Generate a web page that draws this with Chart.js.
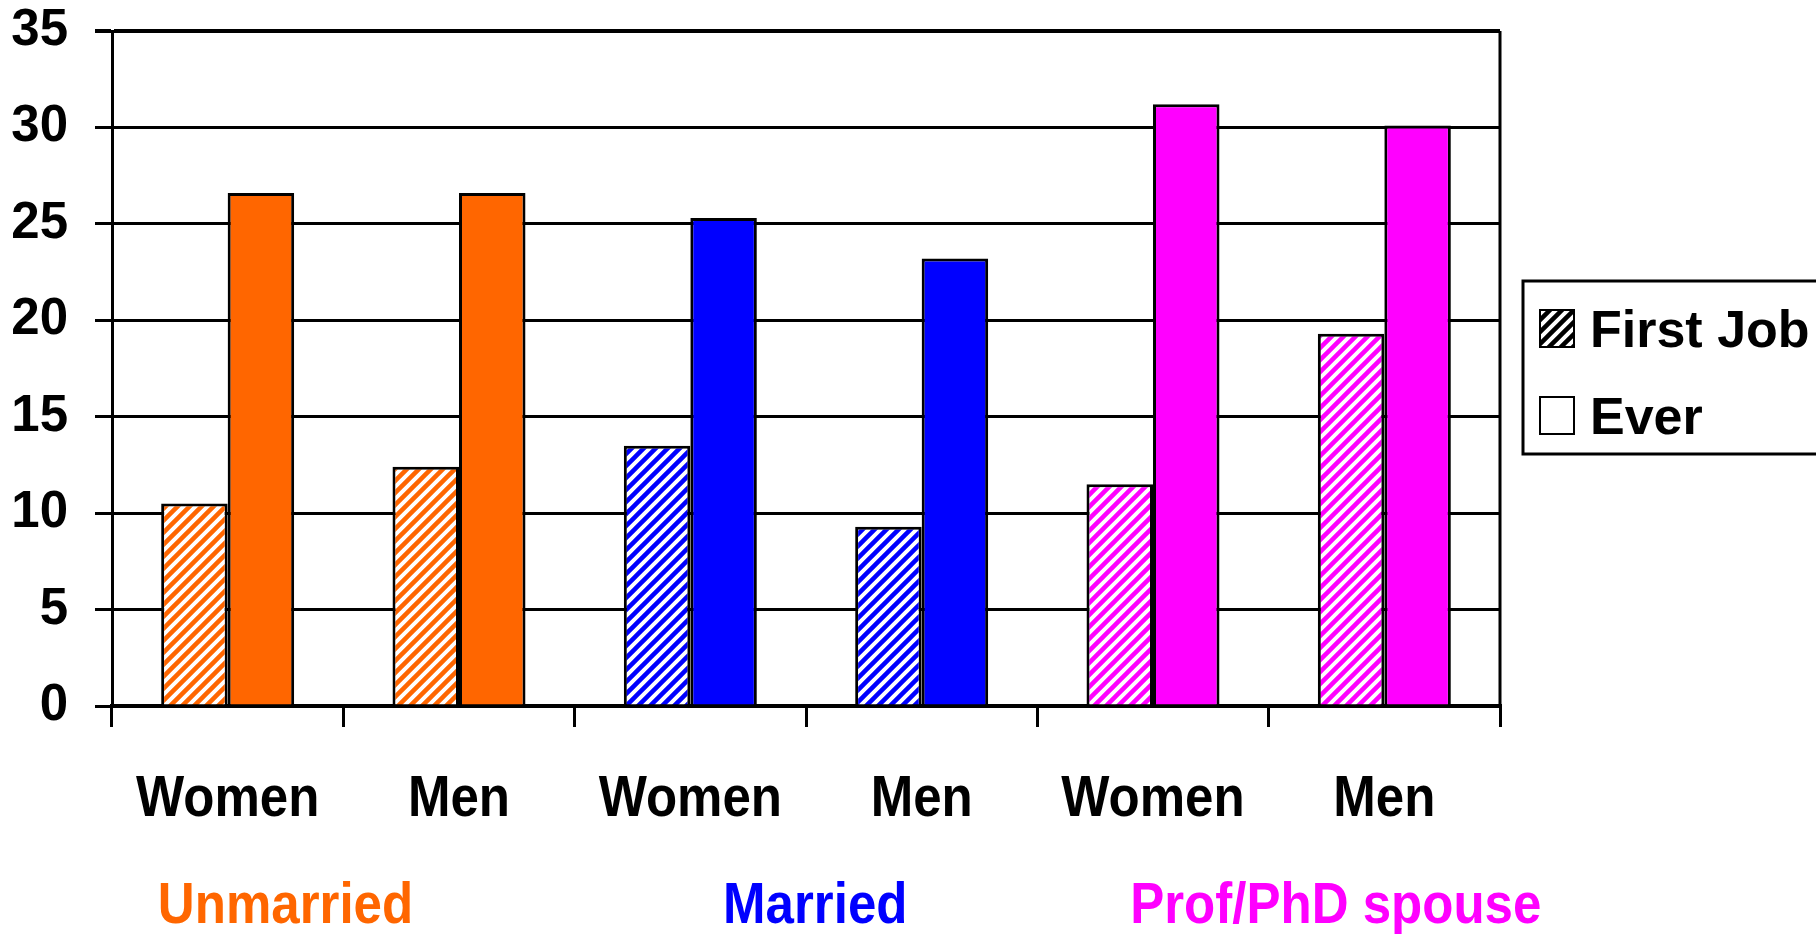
<!DOCTYPE html>
<html>
<head>
<meta charset="utf-8">
<script src="https://cdn.jsdelivr.net/npm/chart.js@4.4.1/dist/chart.umd.min.js"></script>
<style>
  html, body { margin: 0; padding: 0; background: #fff; overflow: hidden; }
</style>
</head>
<body>
<canvas id="chart" width="1816" height="934"></canvas>
<script>
// chart values
const categories = ['Women', 'Men', 'Women', 'Men', 'Women', 'Men'];
const groups = ['Unmarried', 'Married', 'Prof/PhD spouse'];
const seriesNames = ['First Job', 'Ever'];
const firstJob = [10.5, 12.4, 13.5, 9.3, 11.5, 19.3];
const ever = [26.6, 26.6, 25.3, 23.2, 31.2, 30.1];
const yMax = 35;
const yStep = 5;

// colours per group (each group covers two categories)
const groupColors = ['#FF6600', '#0000FF', '#FF00FF'];
const groupCenters = [0.25, 2.54, 4.79]; // where the group captions sit, in category units

const FONT = '"Liberation Sans", Arial, sans-serif';
Chart.defaults.font.family = FONT;

const canvas = document.getElementById('chart');
const ctx = canvas.getContext('2d');

// diagonal "/" hatch on white
function makeHatch(color) {
    const s = 12, w = 4.5;
    const c = document.createElement('canvas');
    c.width = s;
    c.height = s;
    const g = c.getContext('2d');
    g.fillStyle = '#fff';
    g.fillRect(0, 0, s, s);
    g.strokeStyle = color;
    g.lineWidth = w;
    g.beginPath();
    g.moveTo(-w, s + w); g.lineTo(s + w, -w);
    g.moveTo(-w, w); g.lineTo(w, -w);
    g.moveTo(s - w, s + w); g.lineTo(s + w, s - w);
    g.stroke();
    return ctx.createPattern(c, 'repeat');
}

const barColor = categories.map((_, i) => groupColors[Math.floor(i / 2)]);
const barHatch = barColor.map(makeHatch);
const legendFills = [makeHatch('#000'), '#fff'];

// x labels, group captions, right frame edge and boxed legend
const decor = {
    id: 'decor',
    afterDraw(chart) {
        const c = chart.ctx;
        const area = chart.chartArea;
        const xs = chart.scales.x;

        c.save();
        c.strokeStyle = '#000';
        c.lineWidth = 3;
        c.beginPath();
        c.moveTo(area.right, area.top);
        c.lineTo(area.right, area.bottom);
        c.stroke();

        // category labels, slightly condensed like the original
        c.fillStyle = '#000';
        c.textAlign = 'center';
        c.textBaseline = 'alphabetic';
        c.font = 'bold 58px ' + FONT;
        categories.forEach((lab, i) => {
            c.save();
            c.translate(xs.getPixelForTick(i), 816);
            c.scale(0.88, 1);
            c.fillText(lab, 0, 0);
            c.restore();
        });

        groups.forEach((lab, i) => {
            c.save();
            c.fillStyle = groupColors[i];
            c.translate(xs.getPixelForValue(groupCenters[i]), 923);
            c.scale(0.88, 1);
            c.fillText(lab, 0, 0);
            c.restore();
        });

        // legend
        const lx = area.right + 23;
        c.lineWidth = 3;
        c.strokeRect(lx, 281, 400, 173);
        c.textAlign = 'left';
        c.font = 'bold 52px ' + FONT;
        chart.data.datasets.forEach((ds, i) => {
            const top = 310 + i * 87;
            c.fillStyle = legendFills[i];
            c.fillRect(lx + 17, top, 34, 37);
            c.lineWidth = 2;
            c.strokeRect(lx + 17, top, 34, 37);
            c.fillStyle = '#000';
            c.fillText(ds.label, lx + 67, top + 37);
        });
        c.restore();
    }
};

new Chart(ctx, {
    type: 'bar',
    data: {
        labels: categories,
        datasets: [
            {
                label: seriesNames[0],
                data: firstJob,
                backgroundColor: barHatch,
                borderColor: '#000',
                borderWidth: 3
            },
            {
                label: seriesNames[1],
                data: ever,
                backgroundColor: barColor,
                borderColor: '#000',
                borderWidth: 3
            }
        ]
    },
    options: {
        responsive: false,
        animation: false,
        layout: { padding: { top: 31, right: 316, left: 0, bottom: 0 } },
        datasets: { bar: { categoryPercentage: 0.575, barPercentage: 1.0 } },
        plugins: {
            legend: { display: false },
            tooltip: { enabled: false }
        },
        scales: {
            x: {
                ticks: { display: false },
                grid: { offset: true, drawOnChartArea: false, color: '#000', lineWidth: 3, tickLength: 21 },
                border: { color: '#000', width: 4 },
                afterFit: s => { s.height = 228; }
            },
            y: {
                min: 0,
                max: yMax,
                ticks: { stepSize: yStep, color: '#000', padding: 27, font: { size: 51, weight: 'bold' } },
                grid: {
                    color: '#000',
                    lineWidth: c => (c.tick && c.tick.value === yMax ? 4 : 3),
                    tickLength: 17
                },
                border: { color: '#000', width: 3 },
                afterFit: s => {
                    s.width = 112;
                    // labels may overhang the plot; don't let them push it down
                    s.paddingTop = 0;
                    s.paddingBottom = 0;
                }
            }
        }
    },
    plugins: [decor]
});
</script>
</body>
</html>
